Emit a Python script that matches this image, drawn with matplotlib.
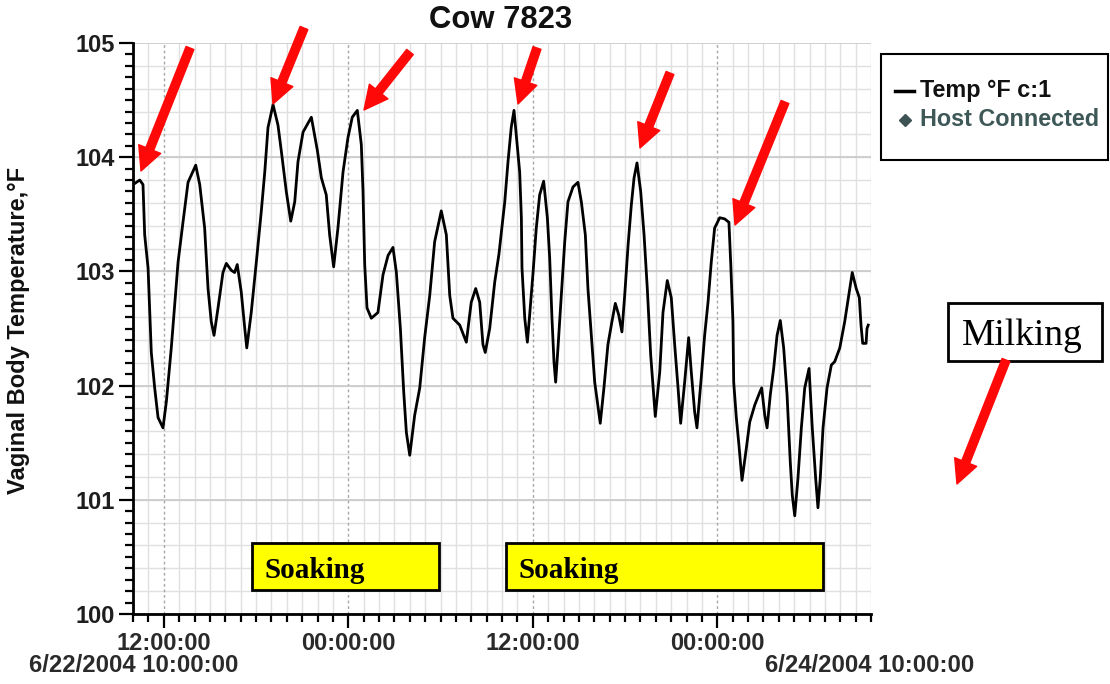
import matplotlib
matplotlib.use('Agg')
import matplotlib.pyplot as plt
import numpy as np
from matplotlib.patches import Rectangle, FancyArrowPatch
from matplotlib.lines import Line2D
from matplotlib.ticker import MultipleLocator, FixedLocator

# ---------------- data ----------------
# hours since 6/22/2004 10:00:00
hours = [0.00, 0.44, 0.65, 0.76, 0.98, 1.19, 1.41, 1.63, 1.95, 2.17, 2.49, 2.93, 3.25, 3.58,
         4.08, 4.34, 4.66, 4.88, 5.09, 5.27, 5.53, 5.85, 6.07, 6.39, 6.61, 6.78, 7.04, 7.27,
         7.40, 7.69, 8.02, 8.34, 8.57, 8.78, 9.11, 9.43, 9.65, 9.97, 10.26, 10.52, 10.73,
         11.06, 11.60, 11.99, 12.25, 12.57, 12.79, 13.05, 13.33, 13.66, 13.98, 14.26, 14.59,
         14.85, 14.96, 15.07, 15.22, 15.50, 15.93, 16.26, 16.59, 16.91, 17.13, 17.39, 17.61,
         17.78, 18.00, 18.32, 18.65, 18.97, 19.30, 19.62, 20.05, 20.38, 20.60, 20.81, 21.25,
         21.68, 22.00, 22.29, 22.55, 22.76, 22.91, 23.20, 23.53, 23.80, 24.18, 24.39, 24.60,
         24.78, 24.93, 25.15, 25.26, 25.30, 25.48, 25.65, 25.80, 26.02, 26.23, 26.45, 26.71,
         26.95, 27.10, 27.25, 27.38, 27.49, 27.64, 27.86, 28.08, 28.29, 28.62, 28.94, 29.16,
         29.42, 29.59, 29.81, 30.03, 30.39, 30.63, 30.89, 31.15, 31.37, 31.59, 31.80, 31.98,
         32.20, 32.41, 32.59, 32.78, 33.02, 33.24, 33.45, 33.67, 33.97, 34.26, 34.47, 34.75,
         35.01, 35.23, 35.45, 35.62, 35.88, 36.14, 36.31, 36.53, 36.68, 36.96, 37.18, 37.40,
         37.61, 37.83, 38.16, 38.48, 38.76, 38.88, 39.02, 39.07, 39.24, 39.41, 39.61, 39.89,
         40.11, 40.44, 40.76, 40.89, 41.09, 41.24, 41.45, 41.67, 41.89, 42.10, 42.32, 42.54,
         42.75, 42.88, 43.04, 43.25, 43.47, 43.69, 43.97, 44.18, 44.40, 44.55, 44.70, 44.88,
         45.14, 45.42, 45.64, 45.97, 46.29, 46.55, 46.78, 47.04, 47.24, 47.35, 47.46, 47.68,
         47.74, 47.82]
temps = [103.76, 103.80, 103.76, 103.32, 103.03, 102.29, 101.98, 101.72, 101.63, 101.86, 102.33,
         103.08, 103.43, 103.78, 103.93, 103.76, 103.38, 102.85, 102.56, 102.44, 102.68, 102.99,
         103.07, 103.01, 102.99, 103.06, 102.82, 102.50, 102.33, 102.64, 103.08, 103.52, 103.87,
         104.26, 104.46, 104.28, 104.05, 103.70, 103.44, 103.61, 103.96, 104.22, 104.35, 104.06,
         103.82, 103.67, 103.32, 103.04, 103.38, 103.87, 104.17, 104.35, 104.41, 104.11, 103.70,
         103.06, 102.68, 102.59, 102.64, 102.97, 103.14, 103.21, 102.99, 102.50, 101.94, 101.59,
         101.39, 101.74, 101.98, 102.42, 102.79, 103.26, 103.53, 103.32, 102.79, 102.59, 102.53,
         102.38, 102.73, 102.85, 102.73, 102.36, 102.29, 102.50, 102.91, 103.15, 103.61, 103.96,
         104.26, 104.41, 104.19, 103.87, 103.47, 103.03, 102.59, 102.38, 102.62, 102.99, 103.38,
         103.67, 103.79, 103.47, 103.12, 102.59, 102.21, 102.03, 102.33, 102.79, 103.26, 103.61,
         103.74, 103.78, 103.61, 103.32, 102.85, 102.44, 102.03, 101.67, 101.98, 102.36, 102.56,
         102.72, 102.62, 102.47, 102.79, 103.23, 103.58, 103.82, 103.95, 103.70, 103.32, 102.85,
         102.27, 101.73, 102.12, 102.64, 102.92, 102.77, 102.36, 101.98, 101.67, 102.03, 102.42,
         102.12, 101.77, 101.63, 102.07, 102.44, 102.73, 103.08, 103.38, 103.47, 103.46, 103.43,
         103.06, 102.56, 102.03, 101.72, 101.48, 101.17, 101.45, 101.68, 101.83, 101.94, 101.98,
         101.74, 101.63, 101.92, 102.15, 102.44, 102.57, 102.33, 101.92, 101.33, 101.04, 100.86,
         101.19, 101.63, 101.98, 102.15, 101.63, 101.19, 100.93, 101.19, 101.63, 101.98, 102.18,
         102.21, 102.33, 102.56, 102.79, 102.99, 102.85, 102.77, 102.53, 102.37, 102.37, 102.50,
         102.53]
x_tick_hours = [2, 14, 26, 38]
x_tick_labels = ['12:00:00', '00:00:00', '12:00:00', '00:00:00']
y_ticks = [100, 101, 102, 103, 104, 105]
start_label = '6/22/2004 10:00:00'
end_label = '6/24/2004 10:00:00'
title = 'Cow 7823'
ylabel = 'Vaginal Body Temperature,°F'
legend_labels = ['Temp °F c:1', 'Host Connected']
soak_label = 'Soaking'
milk_label = 'Milking'

# ---------------- layout helpers (pixel -> figure fraction) ----------------
W, H = 1110, 684
fig = plt.figure(figsize=(W / 100, H / 100), dpi=100)
fig.patch.set_facecolor('white')


def fx(x):
    return x / W


def fy(y):
    return 1 - y / H


SANS = ['Liberation Sans', 'DejaVu Sans']
SERIF = ['Liberation Serif', 'DejaVu Serif']

ax = fig.add_axes([fx(133), fy(614), (871 - 133) / W, (614 - 43) / H])
ax.set_xlim(0, 48)
ax.set_ylim(100, 105)

# grid
ax.xaxis.set_major_locator(FixedLocator(x_tick_hours))
ax.xaxis.set_minor_locator(MultipleLocator(1))
ax.yaxis.set_major_locator(FixedLocator(y_ticks))
ax.yaxis.set_minor_locator(MultipleLocator(0.1))
ax.grid(which='minor', axis='x', color='#e0e0e0', lw=1.0)
ax.grid(which='major', axis='x', color='#a6a6a6', lw=1.0, ls=(0, (2, 2)))
ax.grid(which='major', axis='y', color='#cccccc', lw=1.3)
ax.hlines(np.arange(100.2, 105.0, 0.2), 0, 48, color='#e0e0e0', lw=1.0, zorder=0.5)
ax.set_axisbelow(True)

ax.plot(hours, temps, color='black', lw=2.0, zorder=3)

for s in ['top', 'right']:
    ax.spines[s].set_visible(False)
for s in ['left', 'bottom']:
    ax.spines[s].set_linewidth(2)
    ax.spines[s].set_color('black')

ax.tick_params(which='major', direction='out', length=10, width=1.6, color='black', pad=3)
ax.tick_params(which='minor', direction='out', length=6, width=1.6, color='black')
ax.set_xticklabels(x_tick_labels)
ax.set_yticklabels([str(v) for v in y_ticks])
for lab in ax.get_xticklabels():
    lab.set_fontfamily(SANS)
    lab.set_fontweight('bold')
    lab.set_fontsize(17)
    lab.set_color('#2a2a2a')
for lab in ax.get_yticklabels():
    lab.set_fontfamily(SANS)
    lab.set_fontweight('bold')
    lab.set_fontsize(17)
    lab.set_color('#1e1e1e')

# date labels under axis ends
fig.text(fx(134), fy(666), start_label, ha='center', va='center', fontsize=17.2,
         fontweight='bold', family=SANS, color='#2a2a2a')
fig.text(fx(870), fy(666), end_label, ha='center', va='center', fontsize=17.2,
         fontweight='bold', family=SANS, color='#2a2a2a')

# title and y label
fig.text(fx(501), fy(20), title, ha='center', va='center', fontsize=22.3,
         fontweight='bold', family=SANS, color='#111111')
fig.text(fx(19), fy(330), ylabel, ha='center', va='center', rotation=90, fontsize=17,
         fontweight='bold', family=SANS, color='#111111')

# legend box
fig.add_artist(Rectangle((fx(881), fy(160)), (1108 - 881) / W, (160 - 54) / H,
                         transform=fig.transFigure, facecolor='white', edgecolor='black', lw=1.5))
fig.add_artist(Line2D([fx(895), fx(914)], [fy(91), fy(91)], transform=fig.transFigure,
                      color='black', lw=2.5))
fig.add_artist(Line2D([fx(905)], [fy(120)], transform=fig.transFigure, marker='D',
                      ms=6, color='#3d5252', ls='none'))
fig.text(fx(920), fy(91), legend_labels[0], ha='left', va='center', fontsize=16.8,
         fontweight='bold', family=SANS, color='#111111')
fig.text(fx(920), fy(120), legend_labels[1], ha='left', va='center', fontsize=16.8,
         fontweight='bold', family=SANS, color='#3e5858')

# soaking boxes
for (x0, x1, tx) in [(251.7, 439.3, 265), (506, 823.3, 519)]:
    fig.add_artist(Rectangle((fx(x0), fy(590)), (x1 - x0) / W, (590 - 542.7) / H,
                             transform=fig.transFigure, facecolor='#ffff00',
                             edgecolor='black', lw=2, zorder=4))
    fig.text(fx(tx), fy(578), soak_label, ha='left', va='baseline', fontsize=21,
             fontweight='bold', family=SERIF, color='black', zorder=5)

# milking box
fig.add_artist(Rectangle((fx(947.7), fy(361)), (1101.7 - 947.7) / W, (361 - 302.7) / H,
                         transform=fig.transFigure, facecolor='white', edgecolor='black', lw=2))
fig.text(fx(962), fy(345), milk_label, ha='left', va='baseline', fontsize=27,
         family=SERIF, color='black')

# red arrows (tail -> tip), pixel positions
arrows = [((190, 48), (141, 171)), ((304, 28), (273, 104)), ((410, 52), (364, 110)),
          ((537, 48), (518, 104)), ((670, 73), (640, 148)), ((785, 102), (735, 225)),
          ((1006, 360), (957, 484))]
for (t, h) in arrows:
    fig.add_artist(FancyArrowPatch((fx(t[0]), fy(t[1])), (fx(h[0]), fy(h[1])),
                                   transform=fig.transFigure,
                                   arrowstyle='simple,head_length=17,head_width=17,tail_width=6',
                                   mutation_scale=1, color='#ff0808', shrinkA=0, shrinkB=0,
                                   zorder=6))

fig.savefig('out.png', dpi=100)
